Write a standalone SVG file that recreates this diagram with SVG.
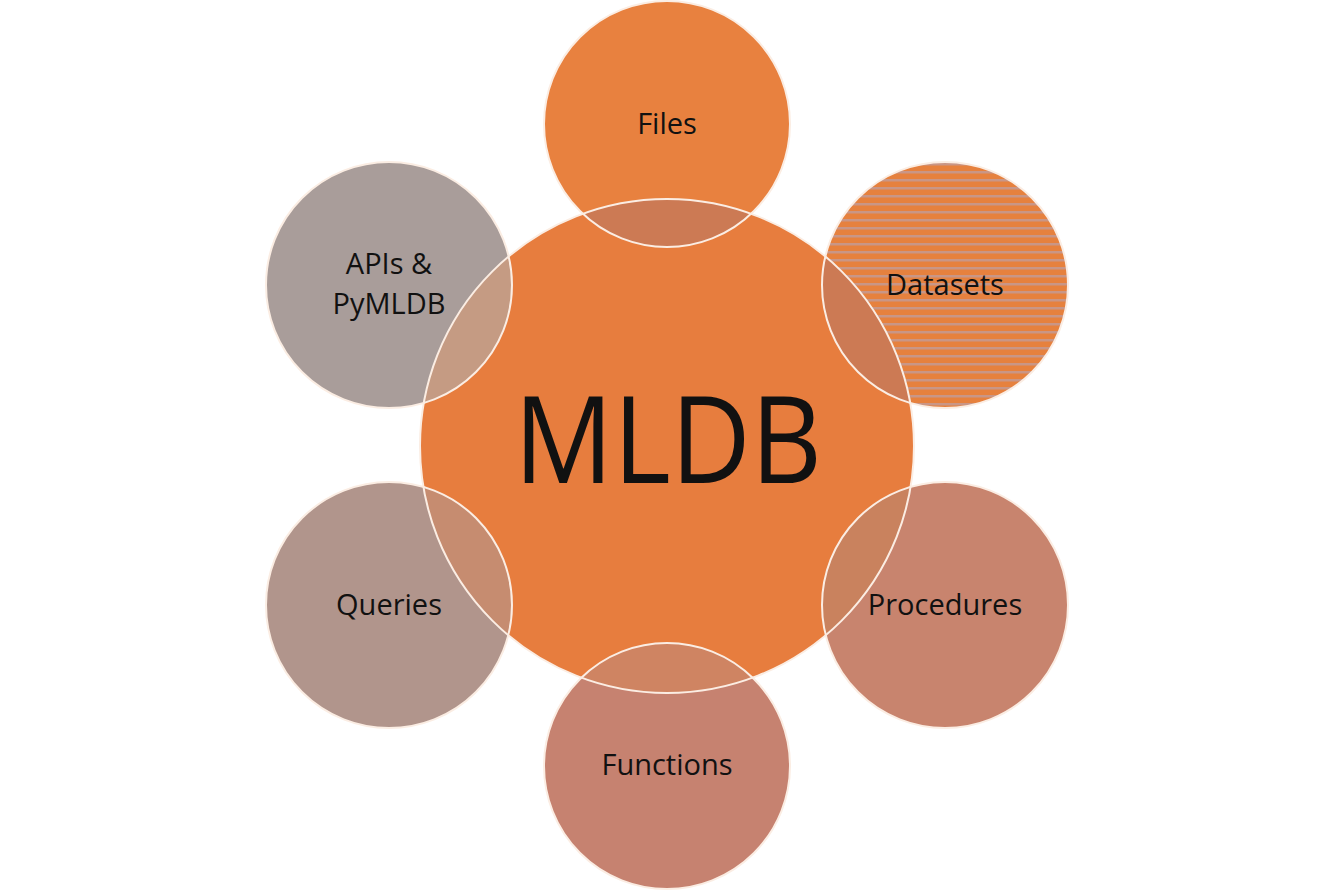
<svg xmlns="http://www.w3.org/2000/svg" width="1334" height="891" viewBox="0 0 1334 891">
<style>
.ring{stroke:#FBEDE3;stroke-width:2;fill:none}
.lbl{font-family:"Open Sans","Noto Sans","DejaVu Sans",sans-serif;font-size:29px;fill:#111;text-anchor:middle}
.big{font-family:"Open Sans","Noto Sans","DejaVu Sans",sans-serif;font-size:120px;fill:#111;text-anchor:middle}
</style>
<defs>
<clipPath id="cc"><circle cx="667" cy="446" r="247"/></clipPath>
<pattern id="stripes" x="0" y="0" width="20" height="8" patternUnits="userSpaceOnUse">
<rect width="20" height="8" fill="#E6813E"/>
<rect y="3" width="20" height="2.5" fill="#C99686"/>
</pattern>
<circle id="c1" cx="667" cy="124" r="123"/>
<circle id="c2" cx="945" cy="285" r="123"/>
<circle id="c3" cx="945" cy="605" r="123"/>
<circle id="c4" cx="667" cy="766" r="123"/>
<circle id="c5" cx="389" cy="605" r="123"/>
<circle id="c6" cx="389" cy="285" r="123"/>
</defs>
<rect width="1334" height="891" fill="#FFFFFF"/>
<g id="mldb-fill"><circle cx="667" cy="446" r="247" fill="#E77D3E"/></g>
<g id="connectors"/>
<g id="files">
<use href="#c1" fill="#E8813F"/>
<use href="#c1" fill="#CC7A54" clip-path="url(#cc)"/>
</g>
<g id="datasets">
<use href="#c2" fill="url(#stripes)"/>
<use href="#c2" fill="#CC7A54" clip-path="url(#cc)"/>
</g>
<g id="procedures">
<use href="#c3" fill="#C8846E"/>
<use href="#c3" fill="#C9825E" clip-path="url(#cc)"/>
</g>
<g id="functions">
<use href="#c4" fill="#C68270"/>
<use href="#c4" fill="#CF8462" clip-path="url(#cc)"/>
</g>
<g id="queries">
<use href="#c5" fill="#B1958C"/>
<use href="#c5" fill="#C68C70" clip-path="url(#cc)"/>
</g>
<g id="apis">
<use href="#c6" fill="#A99D9A"/>
<use href="#c6" fill="#C59B83" clip-path="url(#cc)"/>
</g>
<g id="outlines">
<circle class="ring" cx="667" cy="446" r="247"/>
<use href="#c1" class="ring"/>
<use href="#c2" class="ring"/>
<use href="#c3" class="ring"/>
<use href="#c4" class="ring"/>
<use href="#c5" class="ring"/>
<use href="#c6" class="ring"/>
</g>
<g id="labels">
<text class="big" x="668" y="483" textLength="308" lengthAdjust="spacingAndGlyphs">MLDB</text>
<text class="lbl" x="667" y="134">Files</text>
<text class="lbl" x="945" y="295">Datasets</text>
<text class="lbl" x="945" y="615">Procedures</text>
<text class="lbl" x="667" y="775">Functions</text>
<text class="lbl" x="389" y="615">Queries</text>
<text class="lbl" x="389" y="274">APIs &amp;</text>
<text class="lbl" x="389" y="314">PyMLDB</text>
</g>
</svg>
